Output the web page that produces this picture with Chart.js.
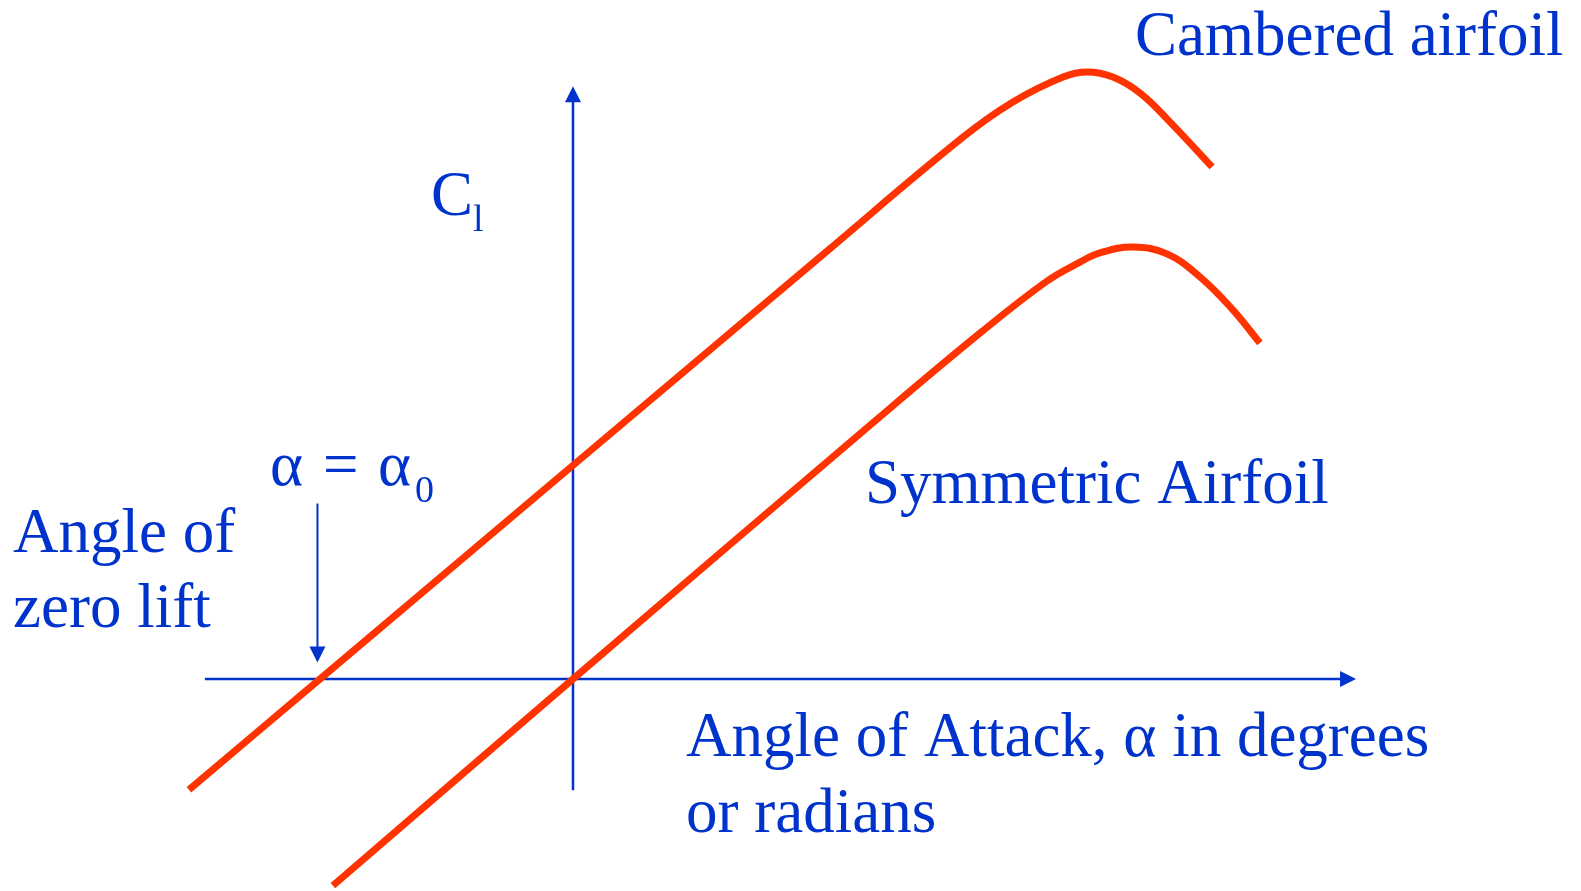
<!DOCTYPE html>
<html>
<head>
<meta charset="utf-8">
<script src="https://cdn.jsdelivr.net/npm/chart.js@4/dist/chart.umd.min.js"></script>
<style>
  html, body { margin: 0; padding: 0; background: #fff; }
  #wrap { width: 1581px; height: 891px; position: relative; }
</style>
</head>
<body>
<div id="wrap"><canvas id="liftChart"></canvas></div>
<script>
// angle of attack (deg) and lift coefficient
const camberedAlpha = [-15.18, -10, 10, 15.42, 17.39, 19.37, 20.32, 21.34, 22.41, 23.6, 25.26];
const camberedCl    = [-0.568, 0, 2.19, 2.779, 2.959, 3.087, 3.113, 3.087, 3.005, 2.856, 2.626];

const symmetricAlpha = [-9.49, 0, 12, 16.09, 18.74, 20.04, 20.83, 22.13, 23.48, 24.78, 26.09, 27.15];
const symmetricCl    = [-1.06, 0, 1.33, 1.774, 2.041, 2.138, 2.185, 2.215, 2.18, 2.062, 1.892, 1.723];

// axis extents and the zero-lift marker
const alphaAxis = [-14.55, 30.95];
const clAxis = [-0.57, 3.04];
const alphaZero = -10.1;
const markerCl = [0.90, 0.085];

const BLUE = '#0033cc';
const RED = '#ff3300';
const FONT = '"Liberation Serif", "Times New Roman", serif';

const toPoints = (xs, ys) => xs.map((x, i) => ({ x: x, y: ys[i] }));

// arrow heads + text labels
const sketchPlugin = {
    id: 'sketch',
    afterDatasetsDraw(chart) {
        const ctx = chart.ctx;
        const sx = chart.scales.x, sy = chart.scales.y;
        ctx.save();
        ctx.fillStyle = BLUE;
        // tip, direction
        const heads = [
            [sx.getPixelForValue(alphaAxis[1]), sy.getPixelForValue(0), 1, 0],
            [sx.getPixelForValue(0), sy.getPixelForValue(clAxis[1]), 0, -1],
            [sx.getPixelForValue(alphaZero), sy.getPixelForValue(markerCl[1]), 0, 1]
        ];
        heads.forEach(([tx, ty, dx, dy]) => {
            const len = 16, half = 8;
            const bx = tx - dx * len, by = ty - dy * len;
            ctx.beginPath();
            ctx.moveTo(tx, ty);
            ctx.lineTo(bx - dy * half, by + dx * half);
            ctx.lineTo(bx + dy * half, by - dx * half);
            ctx.closePath();
            ctx.fill();
        });
        ctx.restore();
    },
    afterDraw(chart) {
        const ctx = chart.ctx;
        ctx.save();
        ctx.fillStyle = BLUE;
        ctx.textBaseline = 'alphabetic';
        ctx.textAlign = 'left';
        const big = '63px ' + FONT;
        const small = '38px ' + FONT;

        ctx.font = big;
        ctx.fillText('Cambered airfoil', 1135, 55);
        ctx.fillText('Symmetric Airfoil', 865, 503);
        ctx.fillText('Angle of Attack, \u03b1 in degrees', 686, 756);
        ctx.fillText('or radians', 686, 832);
        ctx.fillText('Angle of', 13, 552);
        ctx.fillText('zero lift', 13, 627);

        // C with subscript l
        ctx.fillText('C', 431, 215);
        const w = ctx.measureText('C').width;
        ctx.font = small;
        ctx.fillText('l', 431 + w, 231);

        // alpha = alpha0
        ctx.font = big;
        ctx.fillText('\u03b1', 270, 485);
        ctx.fillText('=', 323, 485);
        ctx.fillText('\u03b1', 378, 485);
        ctx.font = small;
        ctx.fillText('0', 415, 502);
        ctx.restore();
    }
};

const ctx = document.getElementById('liftChart').getContext('2d');
const liftChart = new Chart(ctx, {
    type: 'scatter',
    data: {
        datasets: [
            {
                label: 'Cambered airfoil',
                data: toPoints(camberedAlpha, camberedCl),
                showLine: true,
                borderColor: RED,
                borderWidth: 7,
                pointRadius: 0,
                tension: 0.4
            },
            {
                label: 'Symmetric Airfoil',
                data: toPoints(symmetricAlpha, symmetricCl),
                showLine: true,
                borderColor: RED,
                borderWidth: 7,
                pointRadius: 0,
                tension: 0.4
            },
            {
                label: 'alpha axis',
                data: [{ x: alphaAxis[0], y: 0 }, { x: alphaAxis[1] - 0.3, y: 0 }],
                showLine: true,
                borderColor: BLUE,
                borderWidth: 2.5,
                pointRadius: 0
            },
            {
                label: 'Cl axis',
                data: [{ x: 0, y: clAxis[0] }, { x: 0, y: clAxis[1] - 0.04 }],
                showLine: true,
                borderColor: BLUE,
                borderWidth: 2.5,
                pointRadius: 0
            },
            {
                label: 'zero lift marker',
                data: [{ x: alphaZero, y: markerCl[0] }, { x: alphaZero, y: markerCl[1] + 0.04 }],
                showLine: true,
                borderColor: BLUE,
                borderWidth: 2,
                pointRadius: 0
            }
        ]
    },
    options: {
        responsive: true,
        maintainAspectRatio: false,
        animation: false,
        events: [],
        layout: { padding: 0 },
        plugins: {
            legend: { display: false },
            tooltip: { enabled: false }
        },
        scales: {
            x: { type: 'linear', display: false, min: -22.648, max: 39.842 },
            y: { type: 'linear', display: false, min: -1.0872, max: 3.4821 }
        }
    },
    plugins: [sketchPlugin]
});
</script>
</body>
</html>
